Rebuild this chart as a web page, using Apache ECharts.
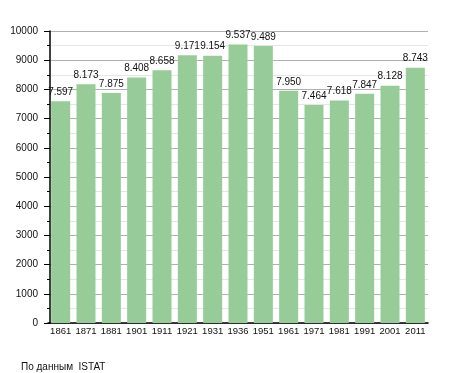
<!DOCTYPE html>
<html><head><meta charset="utf-8">
<script src="https://cdn.jsdelivr.net/npm/echarts@6/dist/echarts.min.js"></script>
<style>html,body{margin:0;padding:0;background:#fff}#c{width:455px;height:373px}</style>
</head><body><div id="c"></div>
<script>
const years = ['1861','1871','1881','1901','1911','1921','1931','1936','1951','1961','1971','1981','1991','2001','2011'];
const population = [7597,8173,7875,8408,8658,9171,9154,9537,9489,7950,7464,7618,7847,8128,8743];
const yTicks = {min:0, max:10000, interval:1000};
const footer = 'По данным  ISTAT';
const font = '"Liberation Sans", Arial, sans-serif';
const chart = echarts.init(document.getElementById('c'), null, {renderer:'canvas'});
chart.setOption({
  animation:false,
  backgroundColor:'#fff',
  grid:{left:48, right:27, top:31, bottom:50, containLabel:false},
  title:{text:footer, left:21, top:362, padding:0, textStyle:{fontFamily:font, fontSize:10, fontWeight:'normal', color:'#111'}},
  xAxis:{type:'category', data:years, boundaryGap:true,
    axisLine:{lineStyle:{color:'#000', width:1.5}},
    axisTick:{show:false},
    axisLabel:{color:'#111', fontFamily:font, fontSize:9.5, margin:3, interval:0, hideOverlap:false}},
  yAxis:{type:'value', min:yTicks.min, max:yTicks.max, interval:yTicks.interval, offset:-2,
    axisLine:{show:true, lineStyle:{color:'#000', width:1.5}},
    axisTick:{show:true, inside:false, length:6, lineStyle:{color:'#000'}},
    minorTick:{show:true, splitNumber:2, length:3, lineStyle:{color:'#000'}},
    splitLine:{show:true, lineStyle:{color:'#b0b0b0', width:1}},
    minorSplitLine:{show:true, lineStyle:{color:'#e6e6e6', width:1}},
    axisLabel:{color:'#111', fontFamily:font, fontSize:10, margin:12, formatter:v=>String(v)}},
  series:[{type:'bar', data:population, barWidth:19,
    itemStyle:{color:'#97cb98'},
    label:{show:true, position:'top', distance:4, color:'#111', fontFamily:font, fontSize:10,
      formatter:p=>String(p.value).replace(/\B(?=(\d{3})+(?!\d))/g,'.')}}]
});
</script></body></html>
